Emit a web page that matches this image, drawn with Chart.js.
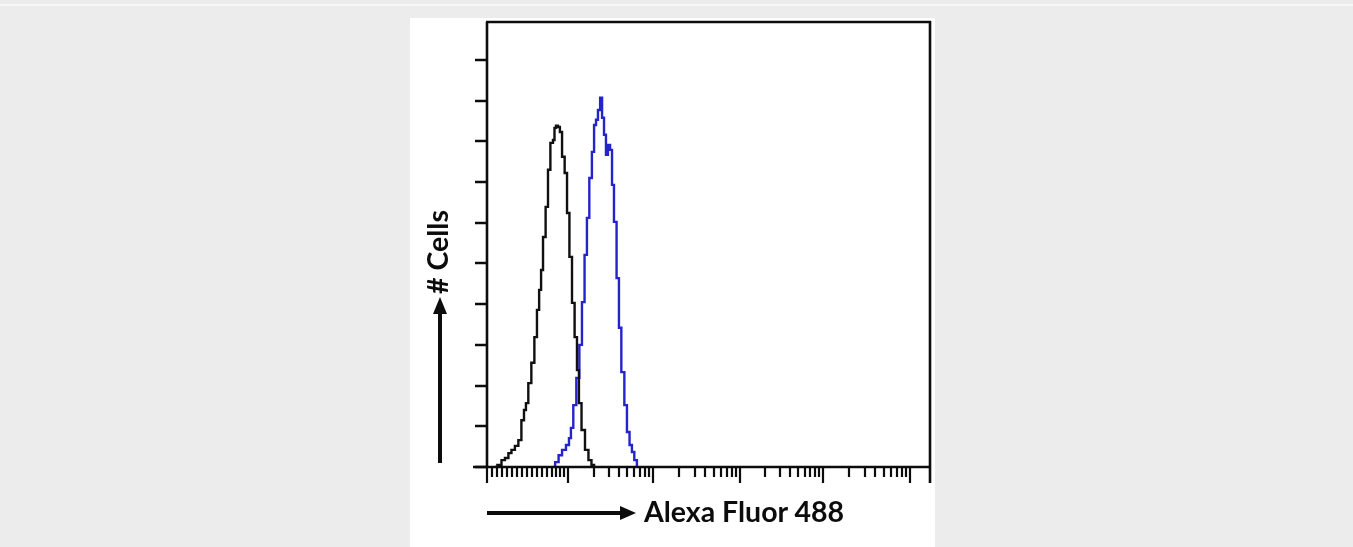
<!DOCTYPE html>
<html>
<head>
<meta charset="utf-8">
<script src="https://cdn.jsdelivr.net/npm/chart.js@4/dist/chart.umd.min.js"></script>
<style>
  html, body { margin: 0; padding: 0; }
  body { width: 1353px; height: 547px; background: #ececec; position: relative; overflow: hidden; }
  #topline { position: absolute; left: 0; top: 4px; width: 1353px; height: 2px; background: #f7f7f7; }
  #panel { position: absolute; left: 410px; top: 18px; width: 525px; height: 529px; background: #ffffff; }
  #chart { position: absolute; left: 0; top: 0; }
  .lbl { position: absolute; font-family: Lato, "Open Sans", sans-serif; font-weight: 700; font-size: 28.5px; line-height: 28px; color: #0c0c0c; white-space: nowrap; }
  #xlabel { left: 234px; top: 479px; }
  #ylabel { left: 13px; top: 276px; transform-origin: 0 0; transform: rotate(-90deg); }
</style>
</head>
<body>
<div id="topline"></div>
<div id="panel">
  <canvas id="chart" width="525" height="529"></canvas>
  <div class="lbl" id="xlabel">Alexa Fluor 488</div>
  <div class="lbl" id="ylabel"># Cells</div>
</div>
<script>
// ---- data (channel on a 0-1024 display scale, cell counts) ----
const blackChannels = [18, 30, 37, 46, 53, 60, 69, 76, 83, 88, 92, 99, 106, 113, 118, 123, 127, 132, 139, 143, 150, 155, 157, 162, 166, 171, 176, 183, 187, 194, 199, 206, 210, 215, 222, 231, 238, 245, 250];
const blackCounts   = [0, 5, 17, 22, 34, 42, 52, 66, 115, 140, 157, 206, 256, 319, 386, 435, 484, 565, 639, 730, 796, 803, 833, 838, 835, 823, 762, 722, 624, 516, 403, 319, 238, 157, 91, 42, 17, 5, 0];
const blueChannels  = [153, 162, 169, 178, 187, 192, 196, 203, 210, 217, 222, 229, 233, 240, 245, 250, 254, 259, 264, 268, 273, 277, 282, 287, 291, 296, 303, 307, 314, 321, 326, 333, 337, 344, 349];
const blueCounts    = [0, 12, 29, 42, 54, 71, 96, 152, 219, 300, 405, 521, 612, 710, 774, 840, 853, 877, 907, 858, 816, 767, 791, 779, 693, 602, 464, 342, 233, 152, 86, 54, 37, 17, 0];

// ---- axes ----
const xMin = 0, xMax = 1024;
const yMin = 0, yMax = 1093;
const yTickValues = [0, 100, 200, 300, 400, 500, 600, 700, 800, 900, 1000];
const xMajorTicks = [0, 187, 384, 585, 777, 978];
const xFirstDecadeMinorTicks = [12, 23, 35, 46, 58, 69, 81, 92, 104, 116, 127, 139, 150, 160, 169, 178];
const xLogMinorMultipliers = [2, 3, 4, 5, 6, 7, 8, 9];

const xMinorTicks = xFirstDecadeMinorTicks.slice();
for (let i = 1; i < xMajorTicks.length; i++) {
  const a = xMajorTicks[i];
  const step = i + 1 < xMajorTicks.length ? xMajorTicks[i + 1] - a : xMajorTicks[i] - xMajorTicks[i - 1];
  xLogMinorMultipliers.forEach(k => {
    const v = a + step * Math.log10(k);
    if (v < xMax) xMinorTicks.push(v);
  });
}

const toPoints = (xs, ys) => xs.map((x, i) => ({ x: x, y: ys[i] }));

const axesPlugin = {
  id: 'facsAxes',
  afterDatasetsDraw(chart) {
    const ctx = chart.ctx;
    const xs = chart.scales.x, ys = chart.scales.y;
    const area = chart.chartArea;
    const L = area.left, R = area.right, T = area.top, B = area.bottom;
    ctx.save();
    ctx.strokeStyle = '#0c0c0c';
    ctx.fillStyle = '#0c0c0c';
    ctx.lineCap = 'butt';
    ctx.lineWidth = 2.6;
    // frame
    ctx.beginPath();
    ctx.moveTo(L, B + 1); ctx.lineTo(L, T);
    ctx.moveTo(L - 1, T); ctx.lineTo(R + 1, T);
    ctx.moveTo(R, T - 1); ctx.lineTo(R, B + 16);
    ctx.moveTo(L - 14, B); ctx.lineTo(R, B);
    ctx.stroke();
    // y ticks
    ctx.lineWidth = 2.4;
    ctx.beginPath();
    yTickValues.forEach(v => {
      const y = Math.round(ys.getPixelForValue(v));
      ctx.moveTo(L - 12, y); ctx.lineTo(L, y);
    });
    ctx.stroke();
    // x ticks
    ctx.lineWidth = 2.2;
    ctx.beginPath();
    xMinorTicks.forEach(v => {
      const x = Math.round(xs.getPixelForValue(v));
      ctx.moveTo(x, B); ctx.lineTo(x, B + 10);
    });
    xMajorTicks.forEach(v => {
      const x = Math.round(xs.getPixelForValue(v));
      ctx.moveTo(x, B); ctx.lineTo(x, B + 16);
    });
    ctx.stroke();
    // horizontal arrow
    ctx.lineWidth = 4;
    ctx.beginPath();
    ctx.moveTo(L, B + 46); ctx.lineTo(L + 136, B + 46);
    ctx.stroke();
    ctx.beginPath();
    ctx.moveTo(L + 149, B + 46);
    ctx.lineTo(L + 133, B + 39);
    ctx.lineTo(L + 133, B + 53);
    ctx.closePath();
    ctx.fill();
    // vertical arrow
    const ax = L - 47;
    ctx.beginPath();
    ctx.moveTo(ax, B - 4); ctx.lineTo(ax, B - 154);
    ctx.stroke();
    ctx.beginPath();
    ctx.moveTo(ax, B - 170);
    ctx.lineTo(ax - 7, B - 153);
    ctx.lineTo(ax + 7, B - 153);
    ctx.closePath();
    ctx.fill();
    ctx.restore();
  }
};

new Chart(document.getElementById('chart'), {
  type: 'line',
  data: {
    datasets: [
      { label: 'Control', data: toPoints(blackChannels, blackCounts), borderColor: '#101010', borderWidth: 2.4, pointRadius: 0, fill: false, stepped: 'middle' },
      { label: 'Alexa Fluor 488', data: toPoints(blueChannels, blueCounts), borderColor: '#2424c8', borderWidth: 2.4, pointRadius: 0, fill: false, stepped: 'middle' }
    ]
  },
  options: {
    responsive: false,
    devicePixelRatio: 1,
    animation: false,
    layout: { padding: { left: 77, right: 5, top: 4, bottom: 80 } },
    plugins: { legend: { display: false }, tooltip: { enabled: false } },
    scales: {
      x: { type: 'linear', min: xMin, max: xMax, display: false },
      y: { type: 'linear', min: yMin, max: yMax, display: false }
    }
  },
  plugins: [axesPlugin]
});
</script>
</body>
</html>
